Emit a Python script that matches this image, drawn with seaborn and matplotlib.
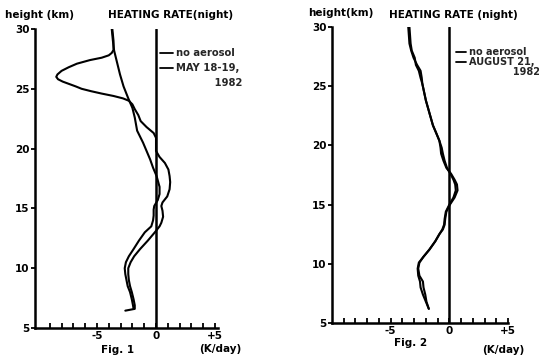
import numpy as np
import pandas as pd
import matplotlib
matplotlib.use("Agg")
import matplotlib.pyplot as plt
from matplotlib.lines import Line2D
import seaborn as sns

# ---------------- data ----------------
# Fig. 1 : no aerosol
h1_noaer = [30.0, 29.0, 28.2, 27.2, 26.2, 25.2, 24.2, 23.4, 22.6, 21.5, 20.5, 19.8, 19.1, 18.4,
            17.7, 16.8, 16.2, 15.7, 15.2, 14.9, 14.4, 14.0, 13.5, 13.0, 12.3, 11.6, 11.0, 10.5,
            10.0, 9.5, 9.0, 8.5, 8.0, 7.4, 6.9, 6.6]
v1_noaer = [-3.75, -3.65, -3.55, -3.3, -3.05, -2.75, -2.35, -2.0, -1.8, -1.6, -1.1, -0.8, -0.5, -0.25,
            0.05, 0.3, 0.3, 0.15, -0.15, -0.2, -0.2, -0.25, -0.4, -0.95, -1.45, -1.9, -2.3, -2.55,
            -2.65, -2.6, -2.5, -2.4, -2.2, -2.05, -1.95, -1.9]
# Fig. 1 : MAY 18-19, 1982
h1_may = [30.0, 29.0, 28.25, 28.0, 27.8, 27.6, 27.4, 27.1, 26.8, 26.5, 26.2, 26.0, 25.8, 25.6,
          25.4, 25.2, 25.0, 24.8, 24.6, 24.4, 24.2, 24.0, 23.7, 23.3, 22.8, 22.3, 21.8, 21.3,
          20.9, 20.4, 19.8, 19.3, 18.8, 18.25, 17.7, 17.2, 16.6, 16.0, 15.5, 15.2, 14.8, 14.3,
          13.8, 13.5, 13.0, 12.3, 11.6, 11.0, 10.5, 10.0, 9.5, 9.0, 8.5, 8.0, 7.4, 6.9, 6.6, 6.45]
v1_may = [-3.7, -3.6, -3.6, -3.75, -4.0, -4.6, -5.6, -6.7, -7.4, -8.0, -8.35, -8.45, -8.3, -7.9,
          -7.35, -6.8, -6.3, -5.5, -4.6, -3.6, -2.8, -2.3, -2.0, -1.8, -1.5, -1.3, -0.8, -0.2,
          0.0, 0.0, 0.0, 0.3, 0.75, 1.05, 1.15, 1.2, 1.15, 0.95, 0.55, 0.45, 0.55, 0.6,
          0.45, 0.3, -0.1, -0.7, -1.35, -1.85, -2.15, -2.35, -2.35, -2.3, -2.2, -2.05, -1.9, -1.8, -1.8, -2.6]

# Fig. 2 : no aerosol and AUGUST 21, 1982
h2 = [30.0, 29.3, 28.6, 28.0, 27.4, 26.8, 26.3, 25.7, 25.2, 24.5, 23.8, 23.1, 22.4, 21.7, 21.0,
      20.4, 19.8, 19.3, 18.7, 18.1, 17.6, 17.1, 16.7, 16.2, 15.6, 15.0, 14.4, 13.8, 13.3, 12.9,
      12.5, 11.9, 11.2, 10.6, 10.1, 9.6, 9.0, 8.5, 8.0, 7.4, 6.8, 6.2]
v2_noaer = [-3.5, -3.45, -3.4, -3.25, -3.05, -2.75, -2.45, -2.35, -2.3, -2.15, -2.0, -1.8, -1.6, -1.4,
            -1.1, -0.85, -0.65, -0.55, -0.4, -0.2, 0.1, 0.35, 0.5, 0.55, 0.35, 0.0, -0.3, -0.4,
            -0.45, -0.6, -0.85, -1.2, -1.7, -2.2, -2.6, -2.7, -2.65, -2.5, -2.45, -2.25, -2.0, -1.75]
v2_aug = [-3.4, -3.35, -3.3, -3.2, -2.95, -2.85, -2.6, -2.45, -2.3, -2.15, -2.0, -1.8, -1.6, -1.4,
          -1.1, -0.85, -0.75, -0.7, -0.5, -0.25, 0.15, 0.45, 0.65, 0.7, 0.45, 0.05, -0.25, -0.35,
          -0.4, -0.55, -0.85, -1.2, -1.7, -2.2, -2.55, -2.65, -2.55, -2.25, -2.2, -2.05, -1.95, -1.75]

y_ticks = [5, 10, 15, 20, 25, 30]
x_major = [-5, 0, 5]
x_major_labels = ["-5", "0", "+5"]
x_minor = list(range(-9, 6))

labels1 = ["no aerosol", "MAY 18-19,", "           1982"]
labels2 = ["no aerosol", "AUGUST 21,", "             1982"]

# ---------------- style ----------------
sns.set_style("white")
plt.rcParams["font.family"] = ["DejaVu Sans"]
plt.rcParams["font.weight"] = "bold"

fig = plt.figure(figsize=(5.39, 3.62), dpi=100)
W, H = 539, 362
ax1 = fig.add_axes([35 / W, 1 - 328 / H, 183 / W, 299 / H])
ax2 = fig.add_axes([332 / W, 1 - 323 / H, 176 / W, 296 / H])

df1 = pd.concat([
    pd.DataFrame({"h": h1_noaer, "v": v1_noaer, "s": "no aerosol"}),
    pd.DataFrame({"h": h1_may, "v": v1_may, "s": "may"}),
])
df2 = pd.concat([
    pd.DataFrame({"h": h2, "v": v2_noaer, "s": "no aerosol"}),
    pd.DataFrame({"h": h2, "v": v2_aug, "s": "aug"}),
])

lw_curve = 1.5
lw_axis = 1.8

settings = [
    (ax1, df1, (-10.25, 5.25), labels1, (160 / W, 1 - 48 / H), 0.5, 7.2, 1.3),
    (ax2, df2, (-10.0, 4.9), labels2, (456 / W, 1 - 47 / H), 0.0, 7.0, 1.0),
]

for ax, df, xlim, labels, anchor, lspace, lsize, hlen in settings:
    pal = {k: "black" for k in df["s"].unique()}
    sns.lineplot(data=df, x="v", y="h", hue="s", palette=pal, sort=False,
                 estimator=None, orient="y", lw=lw_curve, legend=False, ax=ax)
    ax.axvline(0, color="black", lw=lw_axis)
    ax.set_xlim(*xlim)
    ax.set_ylim(5, 30)
    for sp in ["top", "right"]:
        ax.spines[sp].set_visible(False)
    for sp in ["left", "bottom"]:
        ax.spines[sp].set_linewidth(lw_axis)
        ax.spines[sp].set_color("black")
    ax.set_yticks(y_ticks)
    ax.set_yticklabels([str(t) for t in y_ticks], fontsize=7.5, fontweight="bold")
    ax.set_xticks(x_major)
    ax.set_xticklabels(x_major_labels, fontsize=7.5, fontweight="bold")
    ax.set_xticks(x_minor, minor=True)
    ax.tick_params(axis="x", which="both", direction="in", length=3.5, width=1.3,
                   pad=2, colors="black", bottom=True)
    ax.tick_params(axis="y", which="both", direction="out", length=3, width=1.3,
                   pad=1, colors="black", left=True)
    ax.set_xlabel("")
    ax.set_ylabel("")
    ax.patch.set_alpha(0)
    handles = [Line2D([], [], color="black", lw=1.3), Line2D([], [], color="black", lw=1.3),
               Line2D([], [], color="none", lw=0)]
    ax.legend(handles, labels, frameon=False, loc="upper left",
              bbox_to_anchor=anchor, bbox_transform=fig.transFigure,
              handlelength=hlen, handletextpad=0.3,
              borderpad=0, borderaxespad=0, labelspacing=lspace,
              prop={"size": lsize, "weight": "bold"})

txt = dict(fontsize=7.5, fontweight="bold", color="black", va="center")
fig.text(5 / W, 1 - 15 / H, "height (km)", ha="left", **txt)
fig.text(171 / W, 1 - 15 / H, "HEATING RATE(night)", ha="center", **txt)
fig.text(118 / W, 1 - 350 / H, "Fig. 1", ha="center", **txt)
fig.text(220 / W, 1 - 349 / H, "(K/day)", ha="center", **txt)

fig.text(308 / W, 1 - 13 / H, "height(km)", ha="left", **txt)
fig.text(453 / W, 1 - 15 / H, "HEATING RATE (night)", ha="center", **txt)
fig.text(411 / W, 1 - 343 / H, "Fig. 2", ha="center", **txt)
fig.text(503 / W, 1 - 350 / H, "(K/day)", ha="center", **txt)

fig.savefig("out.png", dpi=100)
